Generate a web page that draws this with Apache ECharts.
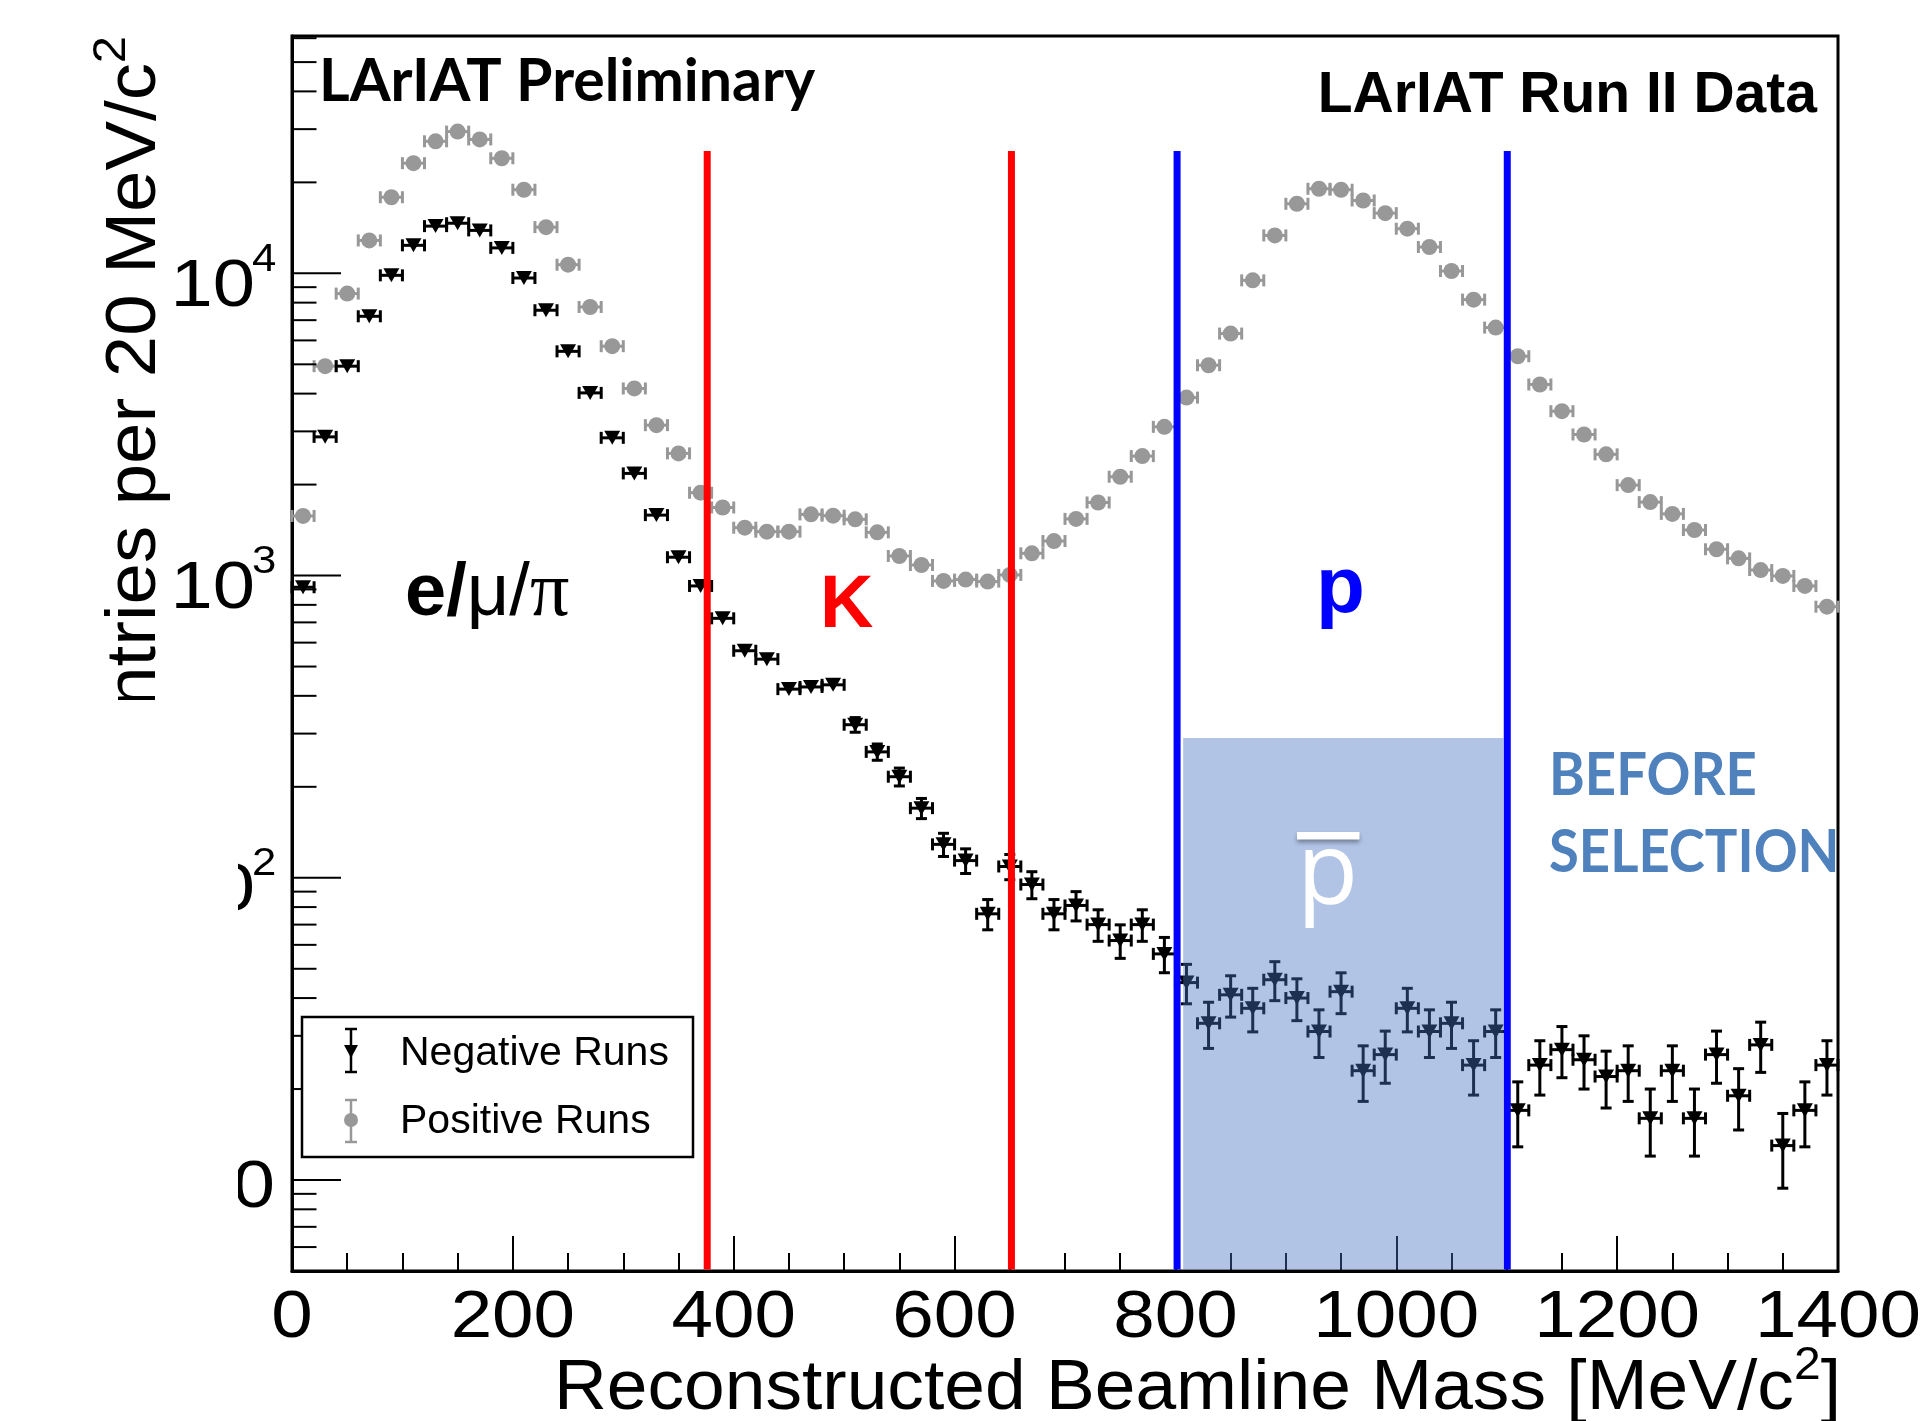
<!DOCTYPE html>
<html><head><meta charset="utf-8">
<script src="https://cdn.jsdelivr.net/npm/echarts@6/dist/echarts.min.js"></script>
<style>html,body{margin:0;padding:0;background:#fff}#c{width:1929px;height:1421px}</style>
</head><body><div id="c"></div>
<script>
// ---- data (bin centres in MeV/c^2, 20 MeV bins) ----
const binCenters = [10,30,50,70,90,110,130,150,170,190,210,230,250,270,290,310,330,350,370,390,
  410,430,450,470,490,510,530,550,570,590,610,630,650,670,690,710,730,750,770,790,
  810,830,850,870,890,910,930,950,970,990,1010,1030,1050,1070,1090,1110,1130,1150,1170,1190,
  1210,1230,1250,1270,1290,1310,1330,1350,1370,1390];
const negativeRuns = [915,2877,4930,7210,9850,12380,14330,14650,13870,12140,9650,7550,5520,4022,2856,2178,1585,1150,924,722,
  564,529,421,428,435,321,261,216,170,129,114,76,109,95,76,81,70,62,70,56,
  45,33,41,37,46,40,31,42,23,26,37,31,33,24,31,17,24,27,25,22,
  23,16,23,16,26,19,28,13,17,24];
const positiveRuns = [1575,4930,8570,12850,17860,23150,27350,29440,27740,24030,18910,14220,10680,7740,5740,4160,3145,2537,1880,1680,
  1440,1397,1397,1594,1578,1535,1390,1161,1084,960,970,955,1005,1185,1301,1540,1745,2123,2485,3105,
  3880,4966,6320,9480,13350,16990,19050,18910,17420,15820,14050,12220,10180,8185,6615,5318,4287,3499,2930,2518,
  1992,1750,1600,1415,1222,1140,1043,997,924,789];
const xTickValues = [0,200,400,600,800,1000,1200,1400];
const xTickLabels = ['0','200','400','600','800','1000','1200','1400'];
const yMajorTicks = [10,100,1000,10000];
const yMinorTicks = [6,7,8,9,20,30,40,50,60,70,80,90,200,300,400,500,600,700,800,900,
  2000,3000,4000,5000,6000,7000,8000,9000,20000,30000,40000,50000,60000];
const yTickBase = ['10','10','10','10'];
const yTickExponent = ['','2','3','4'];
const kaonCuts = [376, 651.5];
const protonCuts = [801.5, 1100.5];
const cutLineTop = 25400;
const pbarBoxX = [807, 1097];
const pbarBoxTop = 290;
const yMin = 5, yMax = 61000;

const FONT = '"Liberation Sans", Arial, Helvetica, sans-serif';
const GRAY = '#989898';
const ROOTSX = 1.13;   // horizontal stretch of the ROOT axis fonts

const mctx = document.createElement('canvas').getContext('2d');
function tw(text, size, weight){ mctx.font = (weight || 'normal') + ' ' + size + 'px ' + FONT; return mctx.measureText(text).width; }

function pointRenderer(kind, color){
  return function(params, api){
    const x = api.value(0), y = api.value(1);
    const e = Math.sqrt(y);
    const c = api.coord([x, y]);
    const l = api.coord([x - 10, y]), r = api.coord([x + 10, y]);
    const t = api.coord([x, y + e]), b = api.coord([x, Math.max(y - e, yMin)]);
    const ls = {stroke: color, lineWidth: 3};
    const half = kind === 'tri' ? 7 : 8;
    const ch = [
      {type:'line', shape:{x1:l[0], y1:c[1], x2:r[0], y2:c[1]}, style:ls},
      {type:'line', shape:{x1:l[0], y1:c[1]-6, x2:l[0], y2:c[1]+6}, style:ls},
      {type:'line', shape:{x1:r[0], y1:c[1]-6, x2:r[0], y2:c[1]+6}, style:ls}
    ];
    if (c[1] - t[1] > half) {
      ch.push({type:'line', shape:{x1:c[0], y1:c[1], x2:c[0], y2:t[1]}, style:ls});
      ch.push({type:'line', shape:{x1:c[0]-5.5, y1:t[1], x2:c[0]+5.5, y2:t[1]}, style:ls});
    }
    if (b[1] - c[1] > half) {
      ch.push({type:'line', shape:{x1:c[0], y1:c[1], x2:c[0], y2:b[1]}, style:ls});
      ch.push({type:'line', shape:{x1:c[0]-5.5, y1:b[1], x2:c[0]+5.5, y2:b[1]}, style:ls});
    }
    if (kind === 'tri') {
      ch.push({type:'polygon', shape:{points:[[c[0]-8, c[1]-7],[c[0]+8, c[1]-7],[c[0], c[1]+7]]}, style:{fill:color}});
    } else {
      ch.push({type:'circle', shape:{cx:c[0], cy:c[1], r:8}, style:{fill:color}});
    }
    return {type:'group', children: ch};
  };
}

// x title pieces (right aligned at the axis end)
const XT_SIZE = 70, XT_SX = 1.045, XT_SUP = 46;
const xtRight = 1841;
const wBracket = tw(']', XT_SIZE) * XT_SX;
const wSup = tw('2', XT_SUP) * XT_SX;
// y title pieces (rotated, right end at top)
const YT_SIZE = 70, YT_SX = 1.062, YT_SUP = 46;
const ytEnd = 36;
const wSupY = tw('2', YT_SUP) * YT_SX;

const chart = echarts.init(document.getElementById('c'), null, {renderer:'canvas', width:1929, height:1421});

const option = {
  animation: false,
  backgroundColor: '#fff',
  grid: {left:292, right:91, top:36, bottom:150, show:true, borderColor:'#000', borderWidth:3, backgroundColor:'#fff'},
  xAxis: {
    type:'value', min:0, max:1400, interval:200,
    axisLine:{show:true, onZero:false, lineStyle:{color:'#000', width:3}},
    axisTick:{show:true, inside:true, length:35, lineStyle:{color:'#000', width:2}},
    minorTick:{show:true, splitNumber:4, length:18, lineStyle:{color:'#000', width:2}},
    splitLine:{show:false}, minorSplitLine:{show:false},
    axisLabel:{show:false}
  },
  yAxis: {
    type:'log', logBase:10, min:yMin, max:yMax,
    axisLine:{show:true, onZero:false, lineStyle:{color:'#000', width:3}},
    axisTick:{show:false}, axisLabel:{show:false}, splitLine:{show:false}
  },
  series: [
    {
      name:'Positive Runs', type:'custom', z:3, clip:false,
      renderItem: pointRenderer('circle', GRAY),
      data: binCenters.map((x, i) => [x, positiveRuns[i]])
    },
    {
      name:'Negative Runs', type:'custom', z:4, clip:false,
      renderItem: pointRenderer('tri', '#000'),
      data: binCenters.map((x, i) => [x, negativeRuns[i]])
    },
    {
      name:'pbar box', type:'custom', z:5, clip:false,
      renderItem: function(params, api){
        const p1 = api.coord([api.value(0), api.value(2)]);
        const p2 = api.coord([api.value(1), yMin]);
        return {type:'rect', shape:{x:p1[0], y:p1[1], width:p2[0]-p1[0], height:p2[1]-p1[1]-1.5},
          style:{fill:'rgba(68,114,196,0.42)'}};
      },
      data: [[pbarBoxX[0], pbarBoxX[1], pbarBoxTop]]
    },
    {
      name:'cuts', type:'custom', z:6, clip:false,
      renderItem: function(params, api){
        const x = api.value(0);
        const p1 = api.coord([x, yMin]);
        const p2 = api.coord([x, cutLineTop]);
        return {type:'line', shape:{x1:p1[0], y1:p1[1]-1.5, x2:p2[0], y2:p2[1]},
          style:{stroke: api.value(1) === 0 ? '#ff0000' : '#0000ff', lineWidth:7}};
      },
      data: kaonCuts.map(v => [v, 0]).concat(protonCuts.map(v => [v, 1]))
    },
    {
      name:'yticks', type:'custom', z:7, clip:false,
      renderItem: function(params, api){
        const c = api.coord([0, api.value(1)]);
        const len = api.value(2) === 1 ? 49 : 24.5;
        return {type:'line', shape:{x1:c[0], y1:c[1], x2:c[0]+len, y2:c[1]}, style:{stroke:'#000', lineWidth:2}};
      },
      data: yMajorTicks.map(v => [0, v, 1]).concat(yMinorTicks.map(v => [0, v, 0]))
    },
    {
      name:'ylabels', type:'custom', z:7, clip:false,
      renderItem: function(params, api){
        const i = params.dataIndex;
        const c = api.coord([0, api.value(1)]);
        const exp = yTickExponent[i];
        if (!exp) {
          return {type:'text', x:275, y:c[1]+9, scaleX:1.15,
            style:{text:yTickBase[i], fontFamily:FONT, fontSize:66, fill:'#000', align:'right', verticalAlign:'middle'}};
        }
        return {type:'group', children:[
          {type:'text', x:255, y:c[1]+14, scaleX:1.15,
            style:{text:yTickBase[i], fontFamily:FONT, fontSize:66, fill:'#000', align:'right', verticalAlign:'middle'}},
          {type:'text', x:252, y:c[1]-13, scaleX:1.15,
            style:{text:exp, fontFamily:FONT, fontSize:38, fill:'#000', align:'left', verticalAlign:'middle'}}
        ]};
      },
      data: yMajorTicks.map(v => [0, v])
    },
    {
      name:'xlabels', type:'custom', z:7, clip:false,
      renderItem: function(params, api){
        const c = api.coord([api.value(0), yMin]);
        return {type:'text', x:c[0], y:c[1]+48, scaleX:ROOTSX,
          style:{text:xTickLabels[params.dataIndex], fontFamily:FONT, fontSize:66, fill:'#000', align:'center', verticalAlign:'middle'}};
      },
      data: xTickValues.map(v => [v, yMin])
    }
  ],
  graphic: [
    // y-axis title (rotated)
    {type:'text', x:136, y:ytEnd + wSupY, rotation:Math.PI/2, scaleX:YT_SX, z:50,
      style:{text:'Entries per 20 MeV/c', fontFamily:FONT, fontSize:YT_SIZE, fill:'#000', align:'right', verticalAlign:'middle'}},
    {type:'text', x:112, y:ytEnd, rotation:Math.PI/2, scaleX:YT_SX, z:50,
      style:{text:'2', fontFamily:FONT, fontSize:YT_SUP, fill:'#000', align:'right', verticalAlign:'middle'}},
    // x-axis title
    {type:'text', x:xtRight, y:1390, scaleX:XT_SX, z:50,
      style:{text:']', fontFamily:FONT, fontSize:XT_SIZE, fill:'#000', align:'right', verticalAlign:'middle'}},
    {type:'text', x:xtRight - wBracket, y:1366, scaleX:XT_SX, z:50,
      style:{text:'2', fontFamily:FONT, fontSize:XT_SUP, fill:'#000', align:'right', verticalAlign:'middle'}},
    {type:'text', x:xtRight - wBracket - wSup, y:1390, scaleX:XT_SX, z:50,
      style:{text:'Reconstructed Beamline Mass [MeV/c', fontFamily:FONT, fontSize:XT_SIZE, fill:'#000', align:'right', verticalAlign:'middle'}},
    // white patch covering lower-left
    {type:'rect', z:100, shape:{x:0, y:700, width:238, height:560}, style:{fill:'#fff'}},
    // header texts
    {type:'text', x:319, y:82, z:50, style:{text:'LArIAT Preliminary', fontFamily:'Lato', fontWeight:'bold', fontSize:59, fill:'#000', verticalAlign:'middle'}},
    {type:'text', x:1817, y:96, z:50, style:{text:'LArIAT Run II Data', fontFamily:FONT, fontWeight:'bold', fontSize:57, fill:'#000', align:'right', verticalAlign:'middle'}},
    // region labels
    {type:'text', x:405, y:595, z:50, style:{text:'{b|e/}{n|μ/}{s|π}', verticalAlign:'middle',
      rich:{b:{fontFamily:FONT, fontWeight:'bold', fontSize:74, fill:'#000'}, n:{fontFamily:FONT, fontSize:74, fill:'#000'},
        s:{fontFamily:'"Liberation Serif", "DejaVu Serif", serif', fontSize:78, fill:'#000'}}}},
    {type:'text', x:820, y:607, z:50, style:{text:'K', fontFamily:FONT, fontWeight:'bold', fontSize:74, fill:'#ff0000', verticalAlign:'middle'}},
    {type:'text', x:1316, y:590, z:50, style:{text:'p', fontFamily:FONT, fontWeight:'bold', fontSize:80, fill:'#0000ff', verticalAlign:'middle'}},
    {type:'text', x:1297, y:876, z:50, style:{text:'p', fontFamily:'"Open Sans"', fontSize:100, fill:'#fff', verticalAlign:'middle'}},
    {type:'rect', z:50, shape:{x:1297, y:832, width:62.5, height:7.5}, style:{fill:'#fff', shadowBlur:4, shadowOffsetY:3, shadowColor:'rgba(0,0,0,0.35)'}},
    {type:'text', x:1549, y:776, scaleX:0.907, z:50, style:{text:'BEFORE', fontFamily:'Lato', fontWeight:'bold', fontSize:60, fill:'#4F81BD', verticalAlign:'middle'}},
    {type:'text', x:1549, y:853, scaleX:0.907, z:50, style:{text:'SELECTION', fontFamily:'Lato', fontWeight:'bold', fontSize:60, fill:'#4F81BD', verticalAlign:'middle'}},
    // legend
    {type:'rect', z:50, shape:{x:302, y:1017, width:391, height:140}, style:{fill:'#fff', stroke:'#000', lineWidth:2.5}},
    {type:'line', z:51, shape:{x1:351, y1:1029, x2:351, y2:1072}, style:{stroke:'#000', lineWidth:2.5}},
    {type:'line', z:51, shape:{x1:345, y1:1029, x2:357, y2:1029}, style:{stroke:'#000', lineWidth:2.5}},
    {type:'line', z:51, shape:{x1:345, y1:1072, x2:357, y2:1072}, style:{stroke:'#000', lineWidth:2.5}},
    {type:'polygon', z:52, shape:{points:[[344,1045],[358,1045],[351,1058]]}, style:{fill:'#000'}},
    {type:'text', x:400, y:1054, z:51, style:{text:'Negative Runs', fontFamily:FONT, fontSize:41, fill:'#000', verticalAlign:'middle'}},
    {type:'line', z:51, shape:{x1:351, y1:1100, x2:351, y2:1142}, style:{stroke:GRAY, lineWidth:2.5}},
    {type:'line', z:51, shape:{x1:345, y1:1100, x2:357, y2:1100}, style:{stroke:GRAY, lineWidth:2.5}},
    {type:'line', z:51, shape:{x1:345, y1:1142, x2:357, y2:1142}, style:{stroke:GRAY, lineWidth:2.5}},
    {type:'circle', z:52, shape:{cx:351, cy:1120, r:7}, style:{fill:GRAY}},
    {type:'text', x:400, y:1122, z:51, style:{text:'Positive Runs', fontFamily:FONT, fontSize:41, fill:'#000', verticalAlign:'middle'}}
  ]
};
chart.setOption(option);
</script>
</body></html>
